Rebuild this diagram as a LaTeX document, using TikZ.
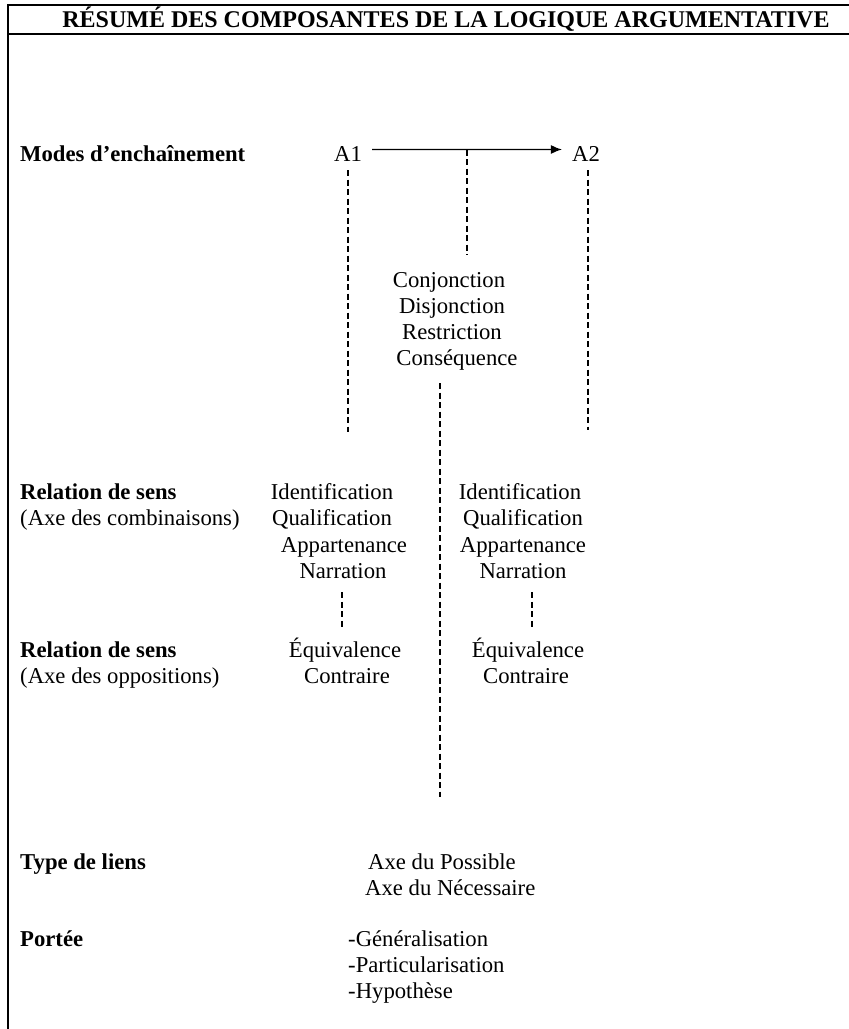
\documentclass[tikz,border=0pt]{standalone}
\usepackage{fontspec}
\setmainfont{Liberation Serif}
\usepackage{tikz}
\usetikzlibrary{arrows.meta}
\tikzset{
  heading/.style={anchor=base west, inner sep=0pt, font=\fontsize{22.7}{26}\selectfont\bfseries},
  sub/.style={anchor=base west, inner sep=0pt, font=\fontsize{22.7}{26}\selectfont},
  item/.style={anchor=base, inner sep=0pt, font=\fontsize{22.7}{26}\selectfont},
  dashline/.style={line width=1.2pt, dash pattern=on 6pt off 3.5pt},
  rule/.style={line width=1.3pt}
}

\begin{document}
\begin{tikzpicture}[x=1pt,y=-1pt]
  \useasboundingbox (0,0) rectangle (849,1029);

  %frame of the table and its title
  \draw[rule] (849,5) -- (8,5) -- (8,1029);
  \draw[rule] (8,34) -- (849,34);
  \node (title) at (446,27) [anchor=base, inner sep=0pt, font=\fontsize{24}{28}\selectfont\bfseries]{RÉSUMÉ DES COMPOSANTES DE LA LOGIQUE ARGUMENTATIVE};

  %row labels on the left
  \node (modes) at (20,161) [heading]{Modes d’enchaînement};
  \node (rel1) at (20,499) [heading]{Relation de sens};
  \node (comb) at (20,525) [sub]{(Axe des combinaisons)};
  \node (rel2) at (20,657) [heading]{Relation de sens};
  \node (oppo) at (20,683) [sub]{(Axe des oppositions)};
  \node (liens) at (20,869) [heading]{Type de liens};
  \node (portee) at (20,946) [heading]{Portée};

  %the two arguments and the link between them
  \node (A1) at (348,161) [item]{A1};
  \node (A2) at (586,161) [item]{A2};
  \draw[rule, -{Latex[length=11pt,width=9pt]}] ([xshift=10pt,yshift=4pt]A1.east) -- coordinate[pos=0.5] (mid) ([xshift=-10pt,yshift=4pt]A2.west);

  %modes of linking
  \node (conj) at (449,287) [item]{Conjonction};
  \node (disj) at (452,313) [item]{Disjonction};
  \node (restr) at (452,339) [item]{Restriction};
  \node (cons) at (457,365) [item]{Conséquence};

  %free ends of the dashed lines
  \coordinate (A1end) at (348,432);
  \coordinate (midend) at (467,255);
  \coordinate (A2end) at (588,430);
  \coordinate (axetop) at (440,383);
  \coordinate (axebot) at (440,797);

  \draw[dashline] ([yshift=-9pt]A1.south) -- (A1end);
  \draw[dashline] (mid) -- (midend);
  \draw[dashline] ([xshift=2pt,yshift=-9pt]A2.south) -- (A2end);
  \draw[dashline] (axetop) -- (axebot);

  %relations of meaning under A1
  \node (idL) at (332,499) [item]{Identification};
  \node (quL) at (332,525) [item]{Qualification};
  \node (apL) at (344,552) [item]{Appartenance};
  \node (naL) at (343,578) [item]{Narration};
  \node (eqL) at (345,657) [item]{Équivalence};
  \node (coL) at (347,683) [item]{Contraire};
  \draw[dashline] ([shift={(-1,14)}]naL.south) -- ([shift={(-3,-10)}]eqL.north);

  %relations of meaning under A2
  \node (idR) at (520,499) [item]{Identification};
  \node (quR) at (523,525) [item]{Qualification};
  \node (apR) at (523,552) [item]{Appartenance};
  \node (naR) at (523,578) [item]{Narration};
  \node (eqR) at (528,657) [item]{Équivalence};
  \node (coR) at (526,683) [item]{Contraire};
  \draw[dashline] ([shift={(9,14)}]naR.south) -- ([shift={(4,-10)}]eqR.north);

  %type of links and scope
  \node (poss) at (368,869) [sub]{Axe du Possible};
  \node (nece) at (365,895) [sub]{Axe du Nécessaire};
  \node (gene) at (348,946) [sub]{-Généralisation};
  \node (part) at (348,972) [sub]{-Particularisation};
  \node (hypo) at (348,998) [sub]{-Hypothèse};
\end{tikzpicture}
\end{document}
